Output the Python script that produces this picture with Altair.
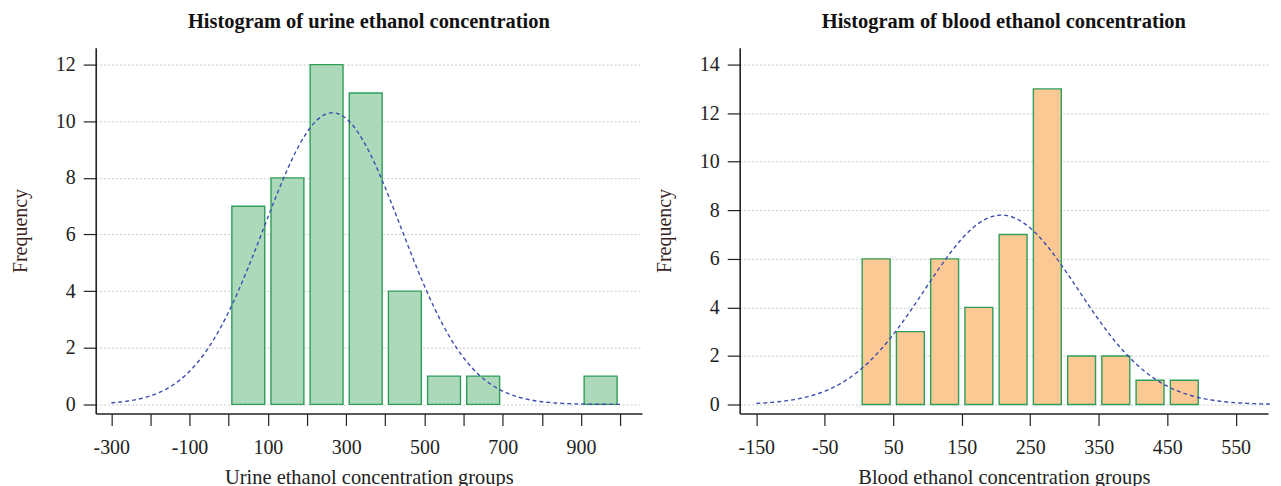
import altair as alt
import numpy as np
import pandas as pd

# ---- data ----
urine_bin_start = [0, 100, 200, 300, 400, 500, 600, 900]
urine_counts = [7, 8, 12, 11, 4, 1, 1, 1]
urine_bin_width = 100

blood_bin_start = [0, 50, 100, 150, 200, 250, 300, 350, 400, 450]
blood_counts = [6, 3, 6, 4, 7, 13, 2, 2, 1, 1]
blood_bin_width = 50

# fitted normal curve parameters
urine_curve_mean, urine_curve_sd, urine_curve_peak = 265, 175, 10.3
urine_curve_range = [-300, 1000]
blood_curve_mean, blood_curve_sd, blood_curve_peak = 208, 112, 7.8
blood_curve_range = [-150, 600]

urine_xticks = list(range(-300, 1001, 100))
blood_xticks = list(range(-150, 591, 50))
urine_yticks = list(range(0, 13))
blood_yticks = list(range(0, 15))

FONT = "Liberation Serif"
TXT = "#222222"


def normal_curve(mean, sd, peak, rng):
    xs = np.linspace(rng[0], rng[1], 300)
    ys = peak * np.exp(-0.5 * ((xs - mean) / sd) ** 2)
    return pd.DataFrame({"x": xs, "y": ys})


def panel(title, xtitle, starts, counts, bw, curve_df, xdom, ydom, xticks,
          xlabel_test, yticks, fill, bar_size, w, h):
    bars_df = pd.DataFrame({"start": starts, "count": counts})
    xscale = alt.Scale(domain=xdom, nice=False, zero=False)
    yscale = alt.Scale(domain=ydom, nice=False, zero=False)
    even = "datum.value % 2 === 0"
    xaxis = alt.Axis(
        values=xticks,
        labelExpr=f"({xlabel_test}) ? ('' + datum.value) : ''",
        tickSize=12, tickColor=TXT, tickWidth=1.2,
        domainColor=TXT, domainWidth=1.6, grid=False,
        labelFont=FONT, labelFontSize=20, labelColor=TXT, labelPadding=12,
        labelOverlap=False, labelFlush=False,
        titleFont=FONT, titleFontSize=20.5, titleFontWeight="normal",
        titleColor=TXT, titlePadding=10,
    )
    yaxis = alt.Axis(
        values=yticks,
        labelExpr=f"{even} ? ('' + datum.value) : ''",
        tickSize={"condition": {"test": even, "value": 12.5}, "value": 6.5},
        tickColor=TXT, tickWidth=1.2,
        domainColor=TXT, domainWidth=1.6,
        grid=True,
        gridColor={"condition": {"test": even, "value": "#bdbdbd"}, "value": "transparent"},
        gridDash=[2, 2], gridWidth=0.8,
        labelFont=FONT, labelFontSize=20, labelColor=TXT, labelPadding=8,
        labelOverlap=False, labelFlush=False,
        titleFont=FONT, titleFontSize=20, titleFontWeight="normal",
        titleColor="#3a1f1f", titlePadding=25,
    )
    bars = alt.Chart(bars_df).transform_calculate(
        mid=f"datum.start + {bw} / 2"
    ).mark_bar(size=bar_size, fill=fill, stroke="#2e9e58", strokeWidth=1.4).encode(
        x=alt.X("mid:Q", scale=xscale, axis=xaxis, title=xtitle),
        y=alt.Y("count:Q", scale=yscale, axis=yaxis, title="Frequency"),
        y2=alt.datum(0),
    )
    curve = alt.Chart(curve_df).mark_line(
        color="#3f4db0", strokeDash=[4, 3], strokeWidth=1.4
    ).encode(x=alt.X("x:Q", scale=xscale), y=alt.Y("y:Q", scale=yscale))
    return alt.layer(bars, curve).properties(
        width=w, height=h,
        title=alt.TitleParams(title, font=FONT, fontSize=20.5, fontWeight="bold",
                              color="#111111", anchor="middle", offset=15.5),
    )


left = panel(
    "Histogram of urine ethanol concentration",
    "Urine ethanol concentration groups",
    urine_bin_start, urine_counts, urine_bin_width,
    normal_curve(urine_curve_mean, urine_curve_sd, urine_curve_peak, urine_curve_range),
    [-327, 1043], [-0.32, 12.6], urine_xticks,
    "(datum.value + 300) % 200 === 0", urine_yticks,
    "#add9bb", 33, 548, 367,
)
right = panel(
    "Histogram of blood ethanol concentration",
    "Blood ethanol concentration groups",
    blood_bin_start, blood_counts, blood_bin_width,
    normal_curve(blood_curve_mean, blood_curve_sd, blood_curve_peak, blood_curve_range),
    [-167, 590], [-0.37, 14.7], blood_xticks,
    "(datum.value + 150) % 100 === 0", blood_yticks,
    "#fcc894", 28, 530, 367,
)

chart = alt.hconcat(left, right, spacing=12).properties(
    padding={"left": 2, "top": 3, "right": 0, "bottom": 0}
).configure_view(stroke=None)

chart.save("out.html", embed_options={"renderer": "svg", "actions": False})
